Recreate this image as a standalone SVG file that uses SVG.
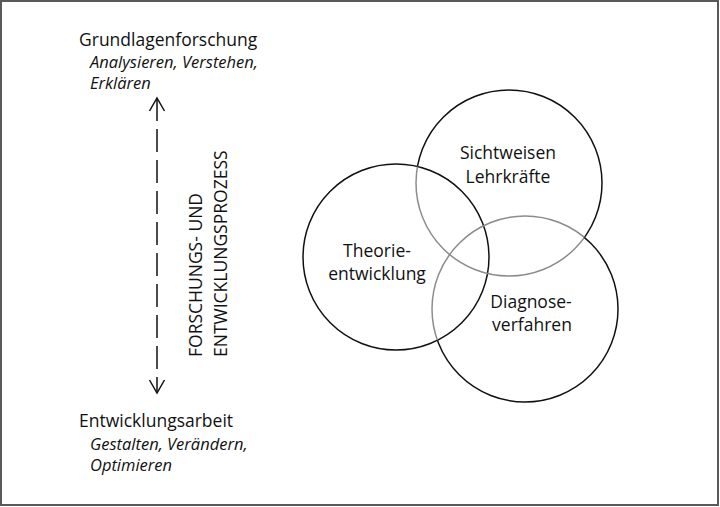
<svg xmlns="http://www.w3.org/2000/svg" width="720" height="507" viewBox="0 0 720 507">
<style>
.t{font-family:"Open Sans","Liberation Sans",sans-serif;font-size:17.5px;fill:#111}
.i{font-style:italic;font-size:16.5px}
.c{text-anchor:middle}
.circ{fill:none;stroke-width:1.5}
</style>
<defs>
<marker id="ah" markerWidth="18" markerHeight="18" refX="14" refY="9" orient="auto-start-reverse" markerUnits="userSpaceOnUse" viewBox="0 0 18 18">
<polyline points="1,1.5 14,9 1,16.5" fill="none" stroke="#111" stroke-width="1.5"/>
</marker>
<clipPath id="inLB"><circle cx="396" cy="257" r="93"/><circle cx="525" cy="309" r="93"/></clipPath>
<clipPath id="inLT"><circle cx="396" cy="257" r="93"/><circle cx="509" cy="183" r="93"/></clipPath>
<mask id="outLB"><rect width="720" height="507" fill="#fff"/><circle cx="396" cy="257" r="93" fill="#000"/><circle cx="525" cy="309" r="93" fill="#000"/></mask>
<mask id="outLT"><rect width="720" height="507" fill="#fff"/><circle cx="396" cy="257" r="93" fill="#000"/><circle cx="509" cy="183" r="93" fill="#000"/></mask>
</defs>
<rect x="1" y="1" width="717" height="504" fill="#fff" stroke="#595959" stroke-width="2"/>
<g id="grundlagen">
<text class="t" x="79" y="46">Grundlagenforschung</text>
<text class="t i" x="90" y="68">Analysieren, Verstehen,</text>
<text class="t i" x="90" y="89">Erklären</text>
</g>
<g id="entwicklung">
<text class="t" x="79" y="427">Entwicklungsarbeit</text>
<text class="t i" x="90" y="450">Gestalten, Verändern,</text>
<text class="t i" x="90" y="471">Optimieren</text>
</g>
<g id="connectors">
<line x1="157" y1="98" x2="157" y2="393" stroke="#111" stroke-width="1.5" stroke-dasharray="23 8" marker-start="url(#ah)" marker-end="url(#ah)"/>
</g>
<g id="prozess">
<text class="t" transform="translate(202,357) rotate(-90)">FORSCHUNGS- UND</text>
<text class="t" transform="translate(227,357) rotate(-90)">ENTWICKLUNGSPROZESS</text>
</g>
<g id="theorie">
<circle class="circ" cx="396" cy="257" r="93" stroke="#111"/>
<text class="t c" x="377" y="257">Theorie-</text>
<text class="t c" x="377" y="280">entwicklung</text>
</g>
<g id="sichtweisen">
<circle class="circ" cx="509" cy="183" r="93" stroke="#111" mask="url(#outLB)"/>
<circle class="circ" cx="509" cy="183" r="93" stroke="#8c8c8c" clip-path="url(#inLB)"/>
<text class="t c" x="508" y="159">Sichtweisen</text>
<text class="t c" x="508" y="183">Lehrkräfte</text>
</g>
<g id="diagnose">
<circle class="circ" cx="525" cy="309" r="93" stroke="#111" mask="url(#outLT)"/>
<circle class="circ" cx="525" cy="309" r="93" stroke="#8c8c8c" clip-path="url(#inLT)"/>
<text class="t c" x="531" y="308">Diagnose-</text>
<text class="t c" x="532" y="331">verfahren</text>
</g>
</svg>
